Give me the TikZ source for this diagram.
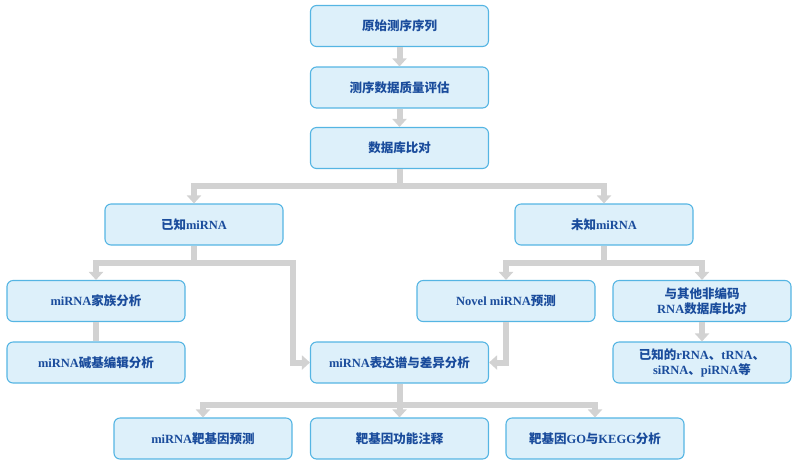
\documentclass[tikz,border=0pt]{standalone}
\usepackage{fontspec}
\setmainfont{Liberation Serif}
\newfontfamily\zh{Noto Sans CJK SC}
\usetikzlibrary{arrows.meta}
\definecolor{boxfill}{HTML}{DDF0FA}
\definecolor{boxline}{HTML}{55B5E3}
\definecolor{txtblue}{HTML}{1A4C9C}
\definecolor{conngray}{HTML}{D2D2D2}
\tikzset{
  box/.style={draw=boxline, fill=boxfill, rounded corners=6pt, line width=1.1pt,
    minimum width=178pt, minimum height=41pt, inner sep=2pt, align=center,
    text=txtblue, font=\fontsize{12.5}{15}\selectfont\bfseries},
  conn/.style={draw=conngray, line width=6pt},
  arr/.style={conn, -{Triangle[width=14pt,length=8pt]}}
}
\begin{document}
\begin{tikzpicture}[x=1pt,y=-1pt]
\useasboundingbox (0,0) rectangle (799,467);
\node[box] (b1) at (399.5,26) {\zh 原始测序序列};
\node[box] (b2) at (399.5,87.5) {\zh 测序数据质量评估};
\node[box] (b3) at (399.5,148) {\zh 数据库比对};
\node[box] (known) at (194,224.5) {{\zh 已知}miRNA};
\node[box] (unknown) at (604,224.5) {{\zh 未知}miRNA};
\node[box] (family) at (96,301) {miRNA{\zh 家族分析}};
\node[box] (edit) at (96,362.5) {miRNA{\zh 碱基编辑分析}};
\node[box] (expr) at (399.5,362.5) {miRNA{\zh 表达谱与差异分析}};
\node[box] (novel) at (506,301) {Novel miRNA{\zh 预测}};
\node[box] (other) at (702,301) {{\zh 与其他非编码}\\RNA{\zh 数据库比对}};
\node[box] (knownr) at (702,362.5) {{\zh 已知的}rRNA{\zh 、}tRNA{\zh 、}\\siRNA{\zh 、}piRNA{\zh 等}};
\node[box] (t1) at (203,438.5) {miRNA{\zh 靶基因预测}};
\node[box] (t2) at (399.5,438.5) {\zh 靶基因功能注释};
\node[box] (t3) at (595,438.5) {{\zh 靶基因}GO{\zh 与}KEGG{\zh 分析}};
\coordinate (s1) at (399.5,186);
\coordinate (s2) at (194,263);
\coordinate (s3) at (604,263);
\coordinate (s4) at (399.5,405);
\coordinate (k1) at (293,263);
\coordinate (k2) at (293,362.5);
\draw[arr] (b1) -- (b2);
\draw[arr] (b2) -- (b3);
\draw[conn] (b3.south) -- (s1);
\draw[arr] (s1) -| (known.north);
\draw[arr] (s1) -| (unknown.north);
\draw[conn] (known.south) -- (s2);
\draw[arr] (s2) -| (family.north);
\draw[arr] (s2) -- (k1) -- (k2) -- (expr.west);
\draw[conn] (family.south) -- (edit.north);
\draw[conn] (unknown.south) -- (s3);
\draw[arr] (s3) -| (novel.north);
\draw[arr] (s3) -| (other.north);
\draw[arr] (novel.south) |- (expr.east);
\draw[arr] (other) -- (knownr);
\draw[conn] (expr.south) -- (s4);
\draw[arr] (s4) -| (t1.north);
\draw[arr] (s4) -- (t2.north);
\draw[arr] (s4) -| (t3.north);
\end{tikzpicture}
\end{document}
